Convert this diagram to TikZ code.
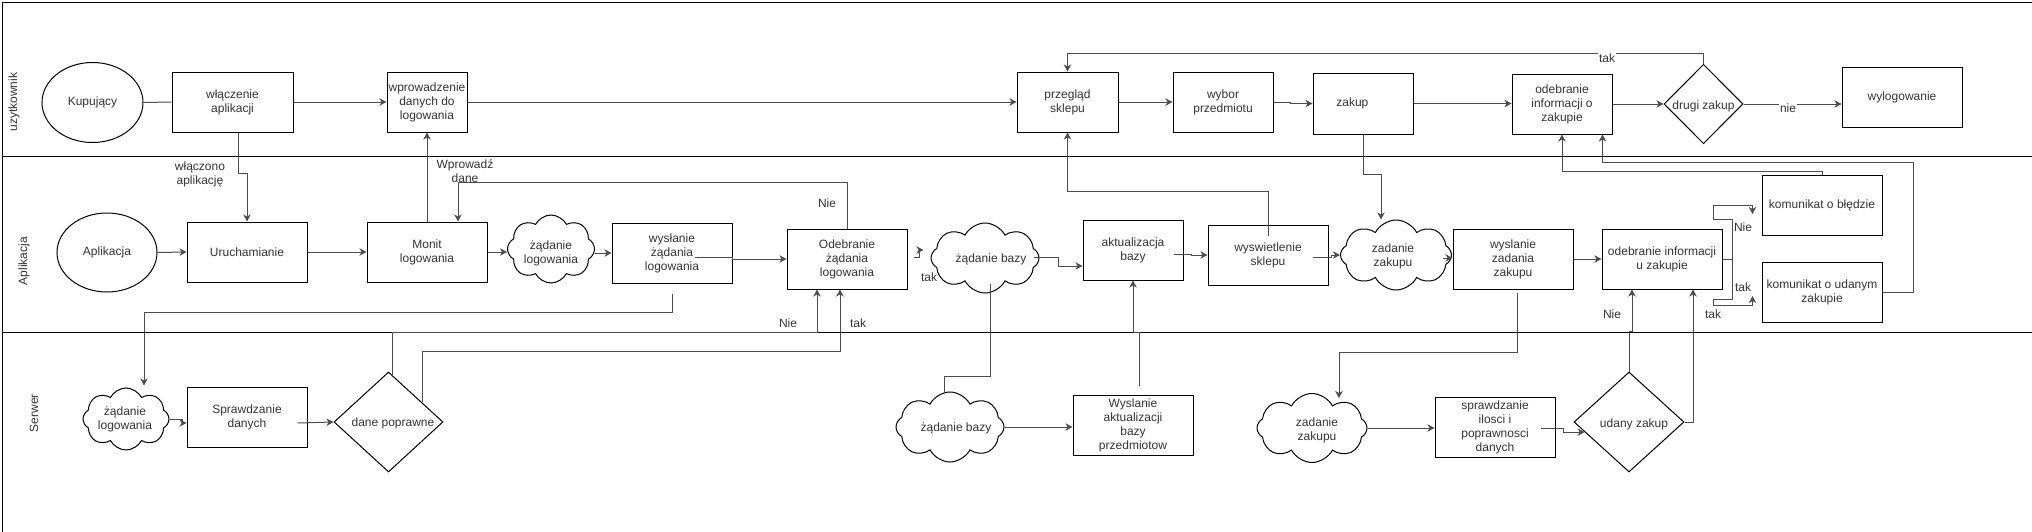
\documentclass[tikz,border=0pt]{standalone}
\usepackage{fontspec}
\setmainfont{Liberation Sans}
\usetikzlibrary{shapes.geometric,shapes.symbols,arrows.meta,calc}

\begin{document}
\begin{tikzpicture}[x=0.75pt, y=-0.75pt,
    every node/.style={font=\fontsize{9}{10.5}\selectfont, text=black!80},
    box/.style={draw=black, line width=0.75pt, rectangle, inner sep=0pt, align=center,
      minimum width=90pt, minimum height=45pt},
    oval/.style={draw=black, line width=0.75pt, ellipse, inner sep=0pt},
    chmura/.style 2 args={draw=black, line width=0.75pt, cloud, cloud puffs=8, cloud puff arc=125,
      cloud ignores aspect, inner sep=0pt, minimum width=#1, minimum height=#2},
    romb/.style 2 args={draw=black, line width=0.75pt, diamond, inner sep=0pt,
      minimum width=#1, minimum height=#2},
    napis/.style={align=center, inner sep=0pt},
    polacz/.style={draw=black!70, line width=0.75pt},
    strz/.style={polacz, -{Stealth[length=5.3pt,width=5.6pt,inset=1.6pt]}},
    lbl/.style={align=center, inner sep=0pt},
    lblw/.style={fill=white, inner sep=1pt},
    tor/.style={draw=black, line width=0.75pt},
    tortxt/.style={rotate=90, inner sep=0pt}
  ]
  \useasboundingbox (0,0) rectangle (2032,532);

  % tory
  \draw[tor] (2.7,532) -- (2.7,2.3) -- (2032,2.3);
  \draw[tor] (2.7,156) -- (2032,156);
  \draw[tor] (2.7,332) -- (2032,332);
  \node[tortxt] (torU) at (14,102) {uzytkownik};
  \node[tortxt] (torA) at (24,261) {Aplikacja};
  \node[tortxt] (torS) at (34,413) {Serwer};

  % uzytkownik
  \node[oval, minimum width=75.75pt, minimum height=60pt] (kup) at (92.5,102.5) {Kupujący};
  \node[box, minimum width=90.75pt] (wlacz) at (232.5,102) {włączenie\\aplikacji};
  \node[box, minimum width=60pt] (wprow) at (427,102) {wprowadzenie\\danych do\\logowania};
  \node[box, minimum width=75.75pt] (przeg) at (1067.5,102) {przegląd\\sklepu};
  \node[box, minimum width=75pt] (wybor) at (1223,102) {wybor\\przedmiotu};
  \node[box, minimum width=75pt, minimum height=45.75pt] (zakup) at (1363,103.5) {\mbox{zakup\hspace{16pt}}};
  \node[box, minimum width=75pt] (odebZak) at (1562,104) {odebranie\\informacji o\\zakupie};
  \node[romb={59.25pt}{59.6pt}] (drugi) at (1703.5,104) {};
  \node[napis] (drugiT) at (1703.5,106) {drugi zakup};
  \node[box] (wylog) at (1902,97) {wylogowanie};

  % Aplikacja
  \node[oval, minimum width=75pt, minimum height=59.25pt] (apl) at (107,252.5) {Aplikacja};
  \node[box] (uruch) at (247,252) {Uruchamianie};
  \node[box] (monit) at (427,252) {Monit\\logowania};
  \node[chmura={65.25pt}{51pt}] (zadLogA) at (551,249) {};
  \node[napis] (zadLogAT) at (551,253) {żądanie\\logowania};
  \node[box] (wyslLog) at (672,253) {wysłanie\\żądania\\logowania};
  \node[box] (odebLog) at (847,259) {Odebranie\\żądania\\logowania};
  \node[chmura={81pt}{52.5pt}] (bazaA) at (985,258) {};
  \node[napis] (bazaAT) at (991,259) {żądanie bazy};
  \node[box, minimum width=75pt] (aktual) at (1133,250) {aktualizacja\\bazy};
  \node[box] (wysw) at (1268,255) {wyswietlenie\\sklepu};
  \node[chmura={83.25pt}{52.5pt}] (zakA) at (1396,255) {};
  \node[napis] (zakAT) at (1393,256) {zadanie\\zakupu};
  \node[box] (wyslZak) at (1513,259) {wyslanie\\zadania\\zakupu};
  \node[box] (odebInfo) at (1662,259) {odebranie informacji\\u zakupie};
  \node[box] (blad) at (1822,205) {komunikat o błędzie};
  \node[box] (udany) at (1822,292) {komunikat o udanym\\zakupie};

  % Serwer
  \node[chmura={64.5pt}{46.5pt}] (zadLogB) at (126,419) {};
  \node[napis] (zadLogBT) at (125,419) {żądanie\\logowania};
  \node[box] (sprDan) at (247,417) {Sprawdzanie\\danych};
  \node[romb={81.75pt}{75pt}] (dane) at (388.5,422) {};
  \node[napis] (daneT) at (393,423) {dane poprawne};
  \node[chmura={81pt}{52.5pt}] (bazaB) at (950,427) {};
  \node[napis] (bazaBT) at (956,428) {żądanie bazy};
  \node[box] (wyslAkt) at (1133,425) {Wyslanie\\aktualizacji\\bazy\\przedmiotow};
  \node[chmura={82.5pt}{51.75pt}] (zakB) at (1312,428) {};
  \node[napis] (zakBT) at (1317,430) {zadanie\\zakupu};
  \node[box] (sprIl) at (1495,427) {sprawdzanie\\ilosci i\\poprawnosci\\danych};
  \node[romb={82.5pt}{75pt}] (udanyZ) at (1629,422) {};
  \node[napis] (udanyZT) at (1634,424) {udany zakup};

  % etykiety pod liniami
  \node[lbl] (lWlacz) at (200,174) {włączono\\aplikację};
  \node[lbl] (lWprow) at (465,171) {Wprowadź\\dane};

  % polaczenia
  \draw[polacz] (kup.east) -- (wlacz.west);
  \draw[strz] (wlacz) -- (wprow);
  \draw[strz] (wprow) -- (przeg);
  \draw[strz] (przeg) -- (wybor);
  \draw[strz] (wybor.east) -- ++(17,0) |- (zakup.west);
  \draw[strz] (zakup.east) -- (zakup.east -| odebZak.west);
  \draw[strz] (odebZak) -- (drugi);
  \draw[strz] (drugi.east) -- (drugi.east -| wylog.west);
  \draw[strz] (drugi.north) -- ++(0,-10.5) -| (przeg.north);

  \draw[strz] ($(wlacz.south)+(5.5,0)$) -- ++(0,41) -| (uruch.north);
  \draw[strz] (monit) -- (wprow);
  \draw[strz] (odebLog.north) -- ++(0,-46) -| ($(monit.north)+(31,0)$);
  \draw[strz] (apl.east) -- (uruch.west);
  \draw[strz] (uruch) -- (monit);
  \draw[strz] (monit.east) -- (monit.east -| zadLogA.west);
  \draw[strz] ($(zadLogA.east)+(0,4)$) -- (wyslLog.west);
  \draw[strz] ($(wyslLog.east)+(-38,4)$) -- ++(38,0) |- (odebLog.west);
  \draw[strz] ($(odebLog.east)+(6,-2)$) -| ($(bazaA.west)+(-11,-8)$) -- ($(bazaA.west)+(-7,-8)$);
  \draw[strz] ($(bazaA.east)+(-6,-1)$) -- ++(25,0) |- ($(aktual.west)+(0,16)$);
  \draw[strz] ($(aktual.east)+(-10,4)$) -- ++(18,0) |- (wysw.west);
  \draw[strz] ($(wysw.east)+(-16,2)$) -- ++(19,0) |- (zakA.west);
  \draw[strz] ($(wysw.north)+(0,11)$) -- ++(0,-44) -| (przeg.south);
  \draw[strz] (zakup.south) -- ++(0,40) -| ($(zakA.north)+(-15,0)$);
  \draw[strz] ($(zakA.east)+(-9,3)$) -- ($(wyslZak.west)+(0,-1)$);
  \draw[strz] (wyslZak) -- (odebInfo);
  \draw[strz] (odebInfo.east) -- ++(10,0) -- ++(0,-40) -- ++(-19,0) -- ++(0,-14) -| ($(blad.west)+(-9,9)$);
  \draw[strz] (odebInfo.east) -- ++(10,0) -- ++(0,40) -- ++(-19,0) -- ++(0,6) -| ($(udany.west)+(-9,4)$);
  \draw[strz] (blad.north) -- ++(0,-3) -| (odebZak.south);
  \draw[strz] (udany.east) -- ++(31,0) -- ++(0,-130) -| ($(odebZak.south)+(40.5,0)$);

  \draw[strz] ($(wyslLog.south)+(0,10)$) -- ++(0,19) -| ($(zadLogB.north)+(18,-2)$);
  \draw[strz] (zadLogB.east) -- ++(13,0) |- ($(sprDan.west)+(0,6)$);
  \draw[strz] ($(sprDan.east)+(-10,6)$) -- (dane.west);
  \draw[strz] ($(dane.north)+(4,4)$) -- ++(0,-43) -| ($(odebLog.south)+(-30,0)$);
  \draw[strz] ($(dane.north)!0.61!(dane.east)$) -- ++(0,-51) -| ($(odebLog.south)+(-7,0)$);
  \draw[polacz] ($(bazaA.south)+(5,-10)$) -- ++(0,93) -| ($(bazaB.north)+(-6,0)$);
  \draw[strz] (bazaB.east) -- (bazaB.east -| wyslAkt.west);
  \draw[strz] ($(wyslAkt.north)+(6,-9)$) -- ++(0,-53) -| (aktual.south);
  \draw[strz] ($(wyslZak.south)+(4,3)$) -- ++(0,60) -| ($(zakB.north)+(27,5)$);
  \draw[strz] (zakB.east) -- (zakB.east -| sprIl.west);
  \draw[strz] ($(sprIl.east)+(-15,1)$) -- ++(23,0) |- ($(udanyZ.west)!0.2!(udanyZ.south)$);
  \draw[strz] (udanyZ.north) -- ++(0,-40) -| ($(odebInfo.south)+(-30,0)$);
  \draw[strz] (udanyZ.east) -| ($(odebInfo.south)+(31,0)$);

  % etykiety
  \node[lblw] (lTakDrugi) at (1607,58) {tak};
  \node[lblw] (lNieDrugi) at (1788,108.6) {nie};
  \node[lbl] (lNieOdeb) at (827,203) {Nie};
  \node[lbl] (lNieDane) at (788,323) {Nie};
  \node[lbl] (lTakDane) at (858,323) {tak};
  \node[lbl] (lTakBaza) at (929,277) {tak};
  \node[lbl] (lNieBlad) at (1743,227) {Nie};
  \node[lbl] (lTakUdany) at (1743,287) {tak};
  \node[lbl] (lTakUdany2) at (1713,314) {tak};
  \node[lbl] (lNieUdany) at (1612,314) {Nie};
\end{tikzpicture}
\end{document}
